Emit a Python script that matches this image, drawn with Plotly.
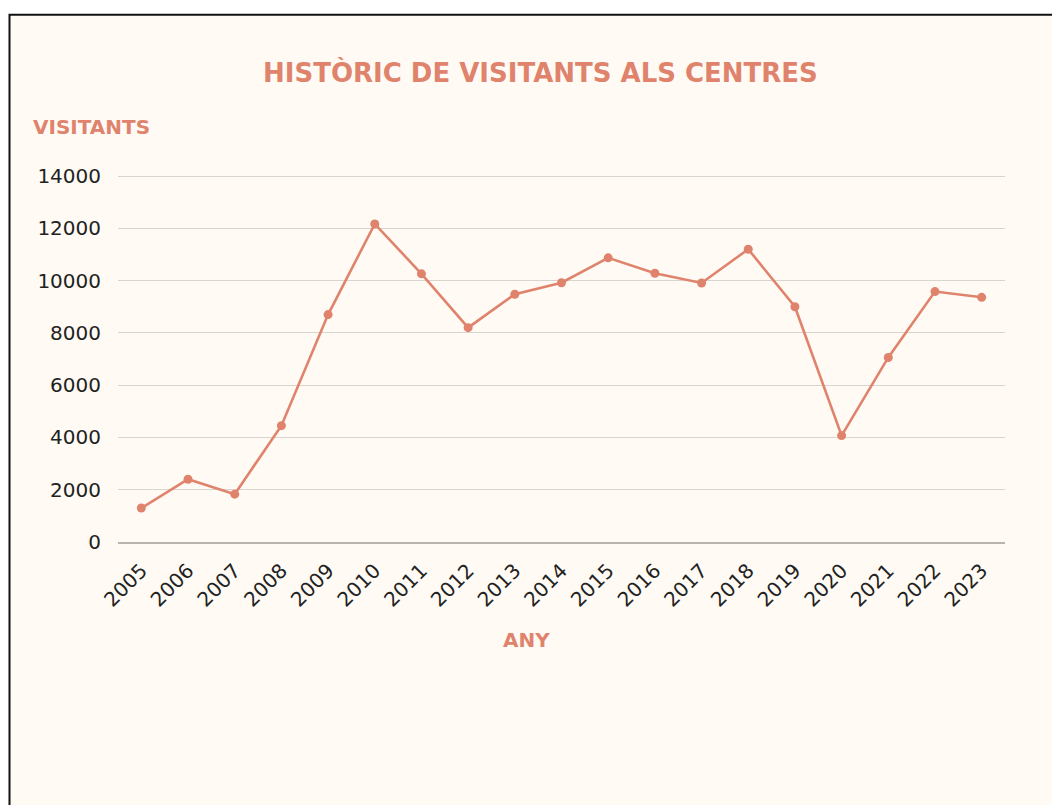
import plotly.graph_objects as go

years = [str(y) for y in range(2005, 2024)]
visitors = [1300, 2400, 1830, 4450, 8700, 12170, 10260, 8200, 9480, 9920,
            10870, 10280, 9910, 11200, 9000, 4070, 7060, 9580, 9360]
y_ticks = [0, 2000, 4000, 6000, 8000, 10000, 12000, 14000]

title_text = "HISTÒRIC DE VISITANTS ALS CENTRES"
y_title = "VISITANTS"
x_title = "ANY"

# page is offset by the 8px body margin; coordinates below are figure pixels
W, H = 1060, 805
L, T = 110, 167
R, B = W - 997, H - 534
pw, ph = W - L - R, H - T - B

def px(x):
    return (x - L) / pw

def py(y):
    return (H - B - y) / ph

accent = "#E0836D"
cream = "#FFFBF4"
head_font = "DejaVu Sans"
tick_font = "DejaVu Sans"

fig = go.Figure()
fig.add_trace(go.Scatter(
    x=years, y=visitors, mode="lines+markers",
    line=dict(color=accent, width=2.6),
    marker=dict(color=accent, size=9),
    hoverinfo="x+y",
))

fig.update_layout(
    width=W, height=H,
    margin=dict(l=L, r=R, t=T, b=B),
    paper_bgcolor="white",
    plot_bgcolor="rgba(0,0,0,0)",
    showlegend=False,
    font=dict(family=tick_font, color="#222222"),
    shapes=[dict(
        type="rect", xref="paper", yref="paper", layer="below",
        x0=px(1.5), x1=px(1080), y0=py(6.7), y1=py(830),
        fillcolor=cream, line=dict(color="#111111", width=2),
    )],
    annotations=[
        dict(text=f"<b>{title_text}</b>", xref="paper", yref="paper",
             x=px(532.5), y=py(64.5), xanchor="center", yanchor="middle",
             showarrow=False, font=dict(size=26, color=accent, family=head_font)),
        dict(text=f"<b>{y_title}</b>", xref="paper", yref="paper",
             x=px(23), y=py(119), xanchor="left", yanchor="middle",
             showarrow=False, font=dict(size=20, color=accent, family=head_font)),
        dict(text=f"<b>{x_title}</b>", xref="paper", yref="paper",
             x=px(518), y=py(632), xanchor="center", yanchor="middle",
             showarrow=False, font=dict(size=20, color=accent, family=head_font)),
    ],
)

fig.update_xaxes(
    type="category", range=[-0.5, len(years) - 0.5],
    tickangle=-45, showgrid=False, ticks="",
    showline=True, linecolor="#B8B4AE", linewidth=2,
    ticklabelstandoff=7,
    tickfont=dict(size=20, color="#222222", family=tick_font),
    fixedrange=True,
)
fig.update_yaxes(
    range=[0, 14040], tickvals=y_ticks, tickformat="d", ticks="",
    showgrid=True, gridcolor="#D8D4CE", gridwidth=1.4,
    zeroline=False, showline=False,
    ticklabelstandoff=16,
    tickfont=dict(size=20, color="#222222", family=tick_font),
    fixedrange=True,
)

fig.write_html("out.html")
